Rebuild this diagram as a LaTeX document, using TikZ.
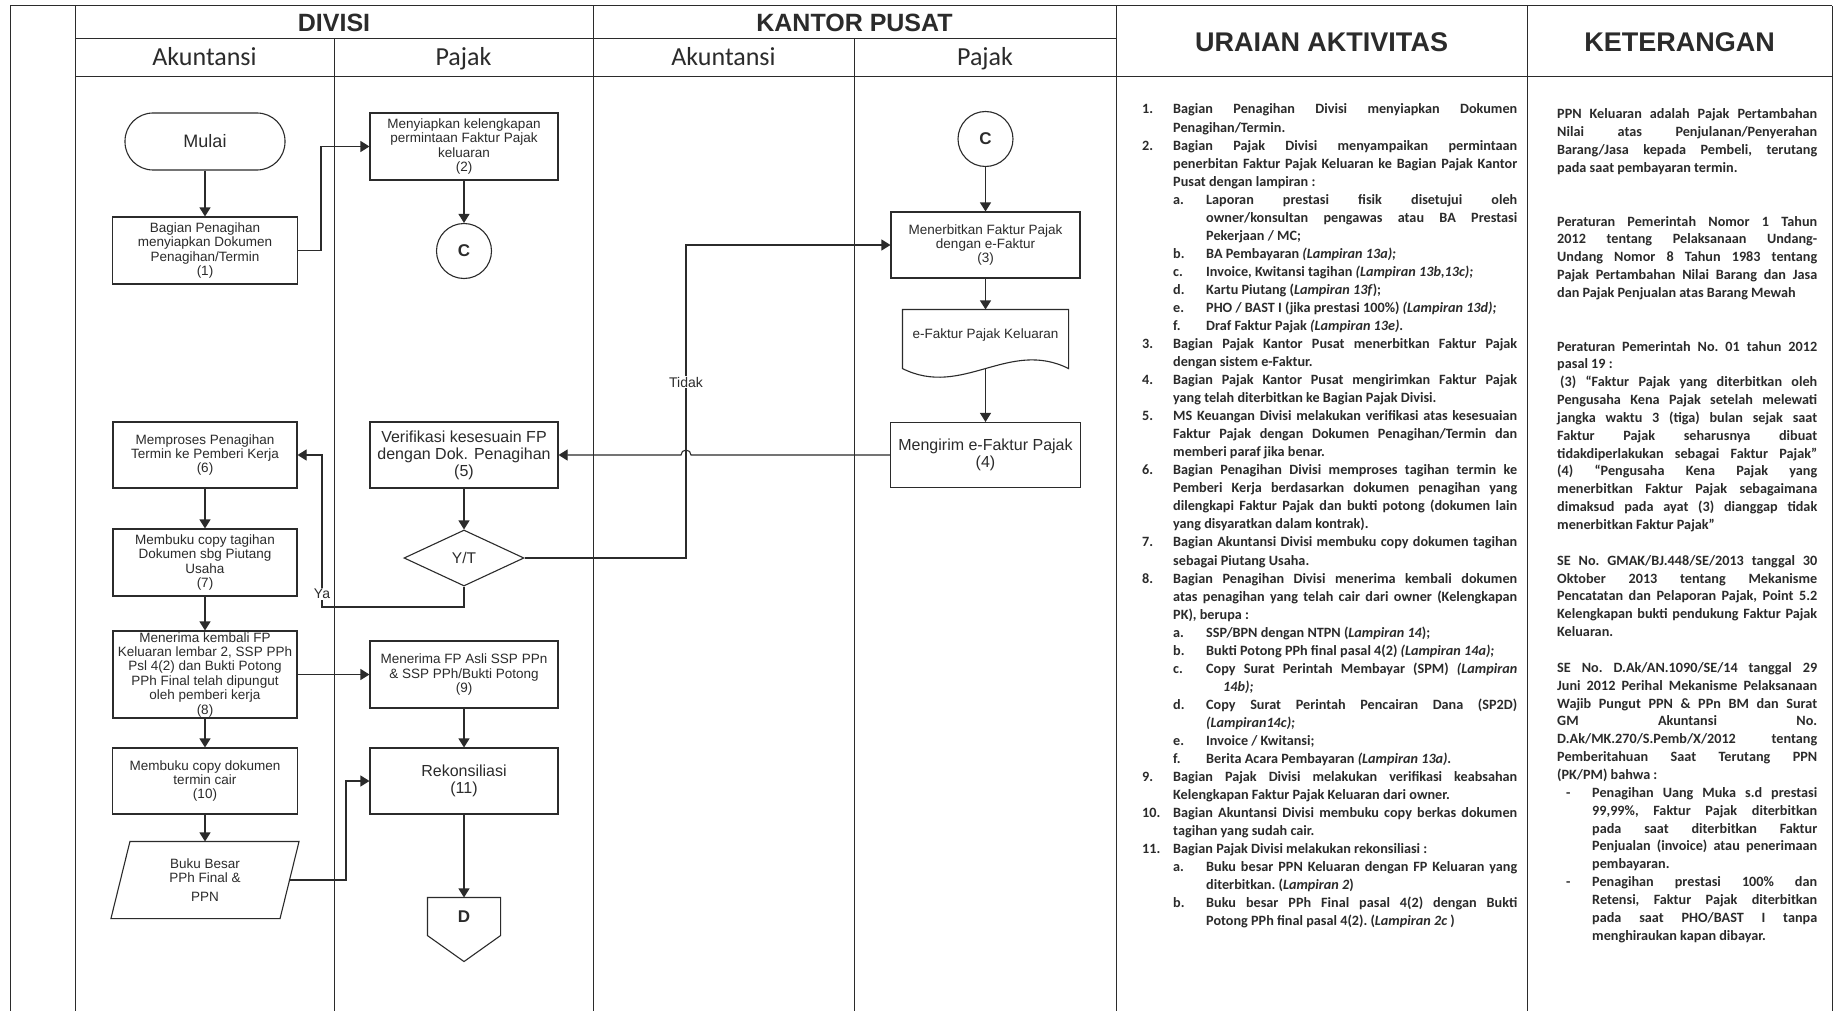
\documentclass[tikz,border=0pt]{standalone}
\usepackage{fontspec}
\setmainfont{Liberation Sans}
\newfontfamily\carlito{Carlito}
\usetikzlibrary{arrows.meta,shapes.geometric}
\definecolor{ink}{HTML}{2B2B2B}

\newcommand{\uitem}[2]{\hangindent=31pt\hangafter=0\noindent\llap{\makebox[31pt][l]{#1}}#2\par}
\newcommand{\usub}[2]{\hangindent=64pt\hangafter=0\noindent\llap{\makebox[33pt][l]{#1}}#2\par}
\newcommand{\kbul}[1]{\hangindent=35pt\hangafter=0\noindent\llap{\makebox[35pt][l]{\hspace{9pt}-}}#1\par}
\newcommand{\lamp}[1]{\textit{#1}}

\tikzset{
  laneline/.style={draw=ink, line width=1pt},
  proc/.style={draw=ink, line width=1.1pt, text=ink, align=center, inner sep=1pt,
    minimum width=188pt, minimum height=67pt, font=\fontsize{13.5}{14.4}\selectfont},
  procbig/.style={proc, font=\fontsize{16}{17}\selectfont},
  term/.style={proc, rounded corners=28pt, minimum width=160pt, minimum height=57pt,
    font=\fontsize{18}{18}\selectfont},
  onpg/.style={proc, circle, minimum width=55pt, minimum height=55pt, inner sep=0pt,
    font=\fontsize{17}{17}\selectfont\bfseries},
  dec/.style={proc, diamond, aspect=2.14, minimum width=120pt, minimum height=56pt,
    inner sep=0pt, font=\fontsize{15.5}{15.5}\selectfont},
  shp/.style={proc, draw=none},
  shapeline/.style={draw=ink, line width=1.1pt},
  arr/.style={draw=ink, line width=1.1pt, -{Triangle[length=9pt,width=11pt]}},
  lbl/.style={fill=white, text=ink, inner sep=1pt, font=\fontsize{14}{14}\selectfont},
  hdbold/.style={text=ink, anchor=base, font=\fontsize{25}{25}\selectfont\bfseries},
  hdwide/.style={hdbold, font=\fontsize{27}{27}\selectfont\bfseries},
  hdlane/.style={text=ink, anchor=base, font=\carlito\fontsize{26}{26}\selectfont},
  uraian/.style={text=ink, anchor=base west, inner sep=0pt, align=justify,
    font=\carlito\bfseries\fontsize{14.2}{18.04}\selectfont}
}

\begin{document}
\begin{tikzpicture}[x=1pt,y=-1pt]
  \fill[white] (0,0) rectangle (1835,1011);
  \useasboundingbox (0,0) rectangle (1835,1011);

  \draw[laneline] (10,6) -- (1832,6);
  \draw[laneline] (75,39) -- (1116,39);
  \draw[laneline] (75,77) -- (1832,77);
  \draw[laneline] (10,6) -- (10,1011);
  \draw[laneline] (75,6) -- (75,1011);
  \draw[laneline] (334,39) -- (334,1011);
  \draw[laneline] (593,6) -- (593,1011);
  \draw[laneline] (854,39) -- (854,1011);
  \draw[laneline] (1116,6) -- (1116,1011);
  \draw[laneline] (1527,6) -- (1527,1011);
  \draw[laneline] (1832,6) -- (1832,1011);

  \node[hdbold] (hdiv) at (334,32)   {DIVISI};
  \node[hdbold] (hkp)  at (854.5,32) {KANTOR PUSAT};
  \node[hdlane] (hak1) at (204.5,66) {Akuntansi};
  \node[hdlane] (hpj1) at (463.5,66) {Pajak};
  \node[hdlane] (hak2) at (723.5,66) {Akuntansi};
  \node[hdlane] (hpj2) at (985,66)   {Pajak};
  \node[hdwide] (hura) at (1321.5,51.5) {URAIAN AKTIVITAS};
  \node[hdwide] (hket) at (1679.5,51.5) {KETERANGAN};

  \node[term] (mulai) at (205,141.5) {Mulai};
  \node[proc, minimum width=185pt] (b1) at (205,250.5) {Bagian Penagihan\\menyiapkan Dokumen\\Penagihan/Termin\\(1)};
  \node[proc] (b2) at (464,146.5) {Menyiapkan kelengkapan\\permintaan Faktur Pajak\\keluaran\\(2)};
  \node[onpg] (cA) at (464,251) {C};
  \node[onpg] (cB) at (985.5,139) {C};
  \node[proc, minimum width=189pt, minimum height=66pt] (b3) at (985.5,245) {Menerbitkan Faktur Pajak\\dengan e-Faktur\\(3)};
  \node[shp, minimum width=165pt, minimum height=50pt] (doc) at (985.5,335) {e-Faktur Pajak Keluaran};
  \node[procbig, minimum width=190pt, minimum height=65pt] (b4) at (985.5,455) {Mengirim e-Faktur Pajak\\(4)};
  \node[procbig, minimum height=66pt] (b5) at (464,455) {Verifikasi kesesuain FP\\dengan Dok. Penagihan\\(5)};
  \node[proc, minimum width=184pt, minimum height=66pt] (b6) at (205,455) {Memproses Penagihan\\Termin ke Pemberi Kerja\\(6)};
  \node[dec] (yt) at (464,558) {Y/T};
  \node[proc, minimum width=184pt] (b7) at (205,562.5) {Membuku copy tagihan\\Dokumen sbg Piutang\\Usaha\\(7)};
  \node[proc, minimum width=184pt, minimum height=87pt] (b8) at (205,674.5) {Menerima kembali FP\\Keluaran lembar 2, SSP PPh\\Psl 4(2) dan Bukti Potong\\PPh Final telah dipungut\\oleh pemberi kerja\\(8)};
  \node[proc] (b9) at (464,674.5) {Menerima FP Asli SSP PPn\\\& SSP PPh/Bukti Potong\\(9)};
  \node[proc, minimum width=185pt, minimum height=66pt] (b10) at (205,781) {Membuku copy dokumen\\termin cair\\(10)};
  \node[procbig, minimum height=66pt] (b11) at (464,781) {Rekonsiliasi\\(11)};
  \node[shp, minimum width=187pt, minimum height=76pt] (bb) at (205,880) {Buku Besar\\PPh Final \&\\[4pt]PPN};
  \node[shp, minimum width=72pt, minimum height=37pt, font=\fontsize{17}{17}\selectfont\bfseries] (pgD) at (464,916.5) {D};

  \draw[shapeline] (doc.north west) -- (doc.north east) -- ([yshift=-8pt]doc.south east)
    .. controls ([xshift=-60pt,yshift=22pt]doc.south east) and ([xshift=60pt,yshift=-38pt]doc.south west)
    .. ([yshift=-8pt]doc.south west) -- cycle;
  \draw[shapeline] ([xshift=19pt]bb.north west) -- (bb.north east) -- ([xshift=-19pt]bb.south east) -- (bb.south west) -- cycle;
  \draw[shapeline] (pgD.north west) -- (pgD.north east) -- (pgD.south east) -- ([yshift=-26pt]pgD.south) -- (pgD.south west) -- cycle;

  \coordinate (j12) at (321,200);
  \coordinate (hop) at (686,455);
  \coordinate (jtd) at (686,400);
  \coordinate (jya) at (322,607);
  \coordinate (jbb) at (346,830);

  \draw[arr] (mulai.south) -- (b1.north);
  \draw[arr] (b1.east) -| (j12) |- (b2.west);
  \draw[arr] (b2.south) -- (cA.north);
  \draw[arr] (cB.south) -- (b3.north);
  \draw[arr] (b3.south) -- (doc.north);
  \draw[arr] ([yshift=-8pt]doc.south) -- (b4.north);
  \draw[arr] (b4.west) -- ([xshift=5pt]hop) arc[start angle=0, end angle=180, radius=5pt] -- (b5.east);
  \draw[arr] (b5.south) -- (yt.north);
  \draw[arr] (yt.east) -| (jtd) |- (b3.west);
  \draw[arr] (yt.south) |- (jya) |- (b6.east);
  \draw[arr] (b6.south) -- (b7.north);
  \draw[arr] (b7.south) -- (b8.north);
  \draw[arr] (b8.east) -- (b9.west);
  \draw[arr] (b8.south) -- (b10.north);
  \draw[arr] (b10.south) -- (bb.north);
  \draw[arr] ([xshift=-9.5pt]bb.east) -| (jbb) |- (b11.west);
  \draw[arr] (b9.south) -- (b11.north);
  \draw[arr] (b11.south) -- (pgD.north);

  \node[lbl] (tdk) at (686,382) {Tidak};
  \node[lbl] (ya) at (322,594) {Ya};

  \node[uraian, text width=375pt] (ura) at (1142,114) {\tolerance=10000\hbadness=10000\parindent=0pt\parskip=0pt\frenchspacing%
    \uitem{1.}{Bagian Penagihan Divisi menyiapkan Dokumen\linebreak Penagihan/Termin.}
    \uitem{2.}{Bagian Pajak Divisi menyampaikan permintaan\linebreak penerbitan Faktur Pajak Keluaran ke Bagian Pajak Kantor\linebreak Pusat dengan lampiran :}
    \usub{a.}{Laporan prestasi fisik disetujui oleh\linebreak owner/konsultan pengawas atau BA Prestasi\linebreak Pekerjaan / MC;}
    \usub{b.}{BA Pembayaran \lamp{(Lampiran 13a);}}
    \usub{c.}{Invoice, Kwitansi tagihan \lamp{(Lampiran 13b,13c);}}
    \usub{d.}{Kartu Piutang (\lamp{Lampiran 13f});}
    \usub{e.}{PHO / BAST I (jika prestasi 100\%) \lamp{(Lampiran 13d);}}
    \usub{f.}{Draf Faktur Pajak \lamp{(Lampiran 13e).}}
    \uitem{3.}{Bagian Pajak Kantor Pusat menerbitkan Faktur Pajak\linebreak dengan sistem e-Faktur.}
    \uitem{4.}{Bagian Pajak Kantor Pusat mengirimkan Faktur Pajak\linebreak yang telah diterbitkan ke Bagian Pajak Divisi.}
    \uitem{5.}{MS Keuangan Divisi melakukan verifikasi atas kesesuaian\linebreak Faktur Pajak dengan Dokumen Penagihan/Termin dan\linebreak memberi paraf jika benar.}
    \uitem{6.}{Bagian Penagihan Divisi memproses tagihan termin ke\linebreak Pemberi Kerja berdasarkan dokumen penagihan yang\linebreak dilengkapi Faktur Pajak dan bukti potong (dokumen lain\linebreak yang disyaratkan dalam kontrak).}
    \uitem{7.}{Bagian Akuntansi Divisi membuku copy dokumen tagihan\linebreak sebagai Piutang Usaha.}
    \uitem{8.}{Bagian Penagihan Divisi menerima kembali dokumen\linebreak atas penagihan yang telah cair dari owner (Kelengkapan\linebreak PK), berupa :}
    \usub{a.}{SSP/BPN dengan NTPN (\lamp{Lampiran 14});}
    \usub{b.}{Bukti Potong PPh final pasal 4(2) \lamp{(Lampiran 14a);}}
    \usub{c.}{Copy Surat Perintah Membayar (SPM) \lamp{(Lampiran}\linebreak\hspace*{17pt}\lamp{14b);}}
    \usub{d.}{Copy Surat Perintah Pencairan Dana (SP2D)\linebreak \lamp{(Lampiran14c);}}
    \usub{e.}{Invoice / Kwitansi;}
    \usub{f.}{Berita Acara Pembayaran \lamp{(Lampiran 13a).}}
    \uitem{9.}{Bagian Pajak Divisi melakukan verifikasi keabsahan\linebreak Kelengkapan Faktur Pajak Keluaran dari owner.}
    \uitem{10.}{Bagian Akuntansi Divisi membuku copy berkas dokumen\linebreak tagihan yang sudah cair.}
    \uitem{11.}{Bagian Pajak Divisi melakukan rekonsiliasi :}
    \usub{a.}{Buku besar PPN Keluaran dengan FP Keluaran yang\linebreak diterbitkan. (\lamp{Lampiran 2})}
    \usub{b.}{Buku besar PPh Final pasal 4(2) dengan Bukti\linebreak Potong PPh final pasal 4(2). (\lamp{Lampiran 2c} )}
  };

  \node[uraian, text width=260pt, font=\carlito\bfseries\fontsize{14.2}{17.85}\selectfont] (ket) at (1557,119) {\tolerance=10000\hbadness=10000\parindent=0pt\parskip=0pt\frenchspacing%
    PPN Keluaran adalah Pajak Pertambahan\linebreak Nilai atas Penjulanan/Penyerahan\linebreak Barang/Jasa kepada Pembeli, terutang\linebreak pada saat pembayaran termin.\par
    \vskip35.7pt
    Peraturan Pemerintah Nomor 1 Tahun\linebreak 2012 tentang Pelaksanaan Undang-\linebreak Undang Nomor 8 Tahun 1983 tentang\linebreak Pajak Pertambahan Nilai Barang dan Jasa\linebreak dan Pajak Penjualan atas Barang Mewah\par
    \vskip35.7pt
    Peraturan Pemerintah No. 01 tahun 2012\linebreak pasal 19 :\newline \hspace*{3pt}(3) “Faktur Pajak yang diterbitkan oleh\linebreak Pengusaha Kena Pajak setelah melewati\linebreak jangka waktu 3 (tiga) bulan sejak saat\linebreak Faktur Pajak seharusnya dibuat\linebreak tidakdiperlakukan sebagai Faktur Pajak”\linebreak (4) “Pengusaha Kena Pajak yang\linebreak menerbitkan Faktur Pajak sebagaimana\linebreak dimaksud pada ayat (3) dianggap tidak\linebreak menerbitkan Faktur Pajak”\par
    \vskip17.85pt
    SE No. GMAK/BJ.448/SE/2013 tanggal 30\linebreak Oktober 2013 tentang Mekanisme\linebreak Pencatatan dan Pelaporan Pajak, Point 5.2\linebreak Kelengkapan bukti pendukung Faktur Pajak\linebreak Keluaran.\par
    \vskip17.85pt
    SE No. D.Ak/AN.1090/SE/14 tanggal 29\linebreak Juni 2012 Perihal Mekanisme Pelaksanaan\linebreak Wajib Pungut PPN \& PPn BM dan Surat\linebreak GM Akuntansi No.\linebreak D.Ak/MK.270/S.Pemb/X/2012 tentang\linebreak Pemberitahuan Saat Terutang PPN\linebreak (PK/PM) bahwa :\par
    \kbul{Penagihan Uang Muka s.d prestasi\linebreak 99,99\%, Faktur Pajak diterbitkan\linebreak pada saat diterbitkan Faktur\linebreak Penjualan (invoice) atau penerimaan\linebreak pembayaran.}
    \kbul{Penagihan prestasi 100\% dan\linebreak Retensi, Faktur Pajak diterbitkan\linebreak pada saat PHO/BAST I tanpa\linebreak menghiraukan kapan dibayar.}
  };
\end{tikzpicture}
\end{document}
